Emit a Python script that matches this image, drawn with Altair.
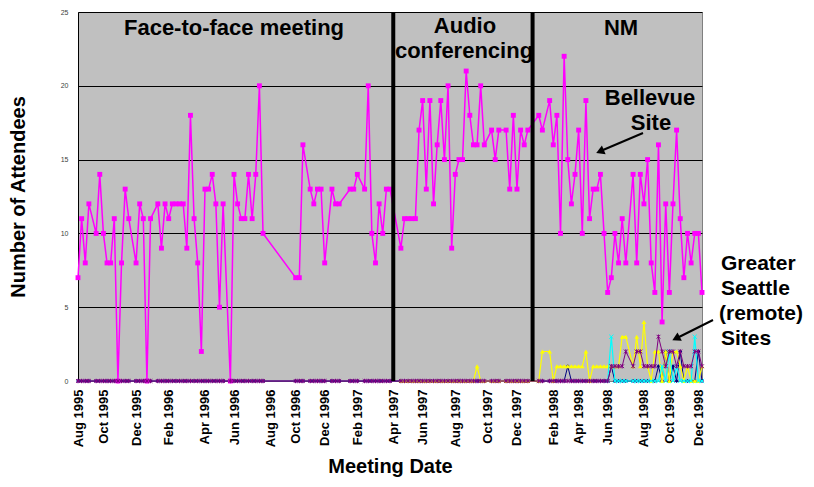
import json
import altair as alt
import pandas as pd

# ---------------- data (meeting index along the category axis) ----------------
f2f_idx = [0, 1, 2, 3, 5, 6, 7, 8, 9, 10, 11, 12, 13, 14, 16, 17, 18, 19, 20,
           22, 23, 24, 25, 26, 27, 28, 29, 30, 31, 32, 33, 34, 35, 36, 37, 38, 39, 40,
           42, 43, 44, 45, 46, 47, 48, 49, 50, 51,
           60, 61, 62, 64, 65, 66, 67, 68, 70, 71, 72, 75, 76, 77,
           79, 80, 81, 82, 83, 84, 85, 86]
f2f_bellevue = [7, 11, 8, 12, 10, 14, 10, 8, 8, 11, 0, 8, 13, 11, 8, 12, 11, 0, 11,
                12, 9, 12, 11, 12, 12, 12, 12, 9, 18, 11, 8, 2, 13, 13, 14, 12, 5, 12,
                0, 14, 12, 11, 11, 14, 11, 14, 20, 10,
                7, 7, 16, 13, 12, 13, 13, 8, 13, 12, 12, 13, 13, 14,
                13, 20, 10, 8, 12, 10, 13, 13]
f2f_remote = [0, 0, 0, 0, 0, 0, 0, 0, 0, 0, 0, 0, 0, 0, 0, 0, 0, 0, 0,
              0, 0, 0, 0, 0, 0, 0, 0, 0, 0, 0, 0, 0, 0, 0, 0, 0, 0, 0,
              0, 0, 0, 0, 0, 0, 0, 0, 0, 0,
              0, 0, 0, 0, 0, 0, 0, 0, 0, 0, 0, 0, 0, 0,
              0, 0, 0, 0, 0, 0, 0, 0]

audio_idx = [89, 90, 91, 92, 93, 94, 95, 96, 97, 98, 99, 100, 101, 102, 103, 104,
             105, 106, 107, 108, 109, 110, 111, 112, 114, 115, 116,
             118, 119, 120, 121, 122, 123, 124]
audio_bellevue = [9, 11, 11, 11, 11, 17, 19, 13, 19, 12, 16, 19, 15, 20, 9, 14,
                  15, 15, 21, 18, 16, 16, 20, 16, 17, 15, 17,
                  17, 13, 18, 13, 17, 16, 17]
audio_yellow = [0, 0, 0, 0, 0, 0, 0, 0, 0, 0, 0, 0, 0, 0, 0, 0,
                0, 0, 0, 0, 0, 1, 0, 0, 0, 0, 0,
                0, 0, 0, 0, 0, 0, 0]
audio_remote = [0, 0, 0, 0, 0, 0, 0, 0, 0, 0, 0, 0, 0, 0, 0, 0,
                0, 0, 0, 0, 0, 0, 0, 0, 0, 0, 0,
                0, 0, 0, 0, 0, 0, 0]

nm_idx = [127, 128,
          130, 131, 132, 133, 134, 135, 136, 137, 138, 139, 140, 141, 142, 143,
          144, 145, 146, 147, 148, 149, 150, 151,
          153, 154, 155, 156, 157, 158, 159, 160, 161, 162, 163, 164, 165, 166,
          167, 168, 169, 170, 171, 172]
nm_bellevue = [18, 17,
               19, 16, 18, 10, 22, 15, 12, 14, 17, 10, 19, 11, 13, 13,
               14, 10, 6, 7, 10, 8, 11, 8,
               14, 8, 14, 12, 15, 8, 6, 16, 4, 12, 6, 12, 17, 11,
               7, 10, 8, 10, 10, 6]
nm_navy = [0, 0,
           0, 0, 0, 0, 0, 1, 0, 0, 0, 0, 0, 0, 0, 0,
           0, 0, 0, 1, 0, 0, 0, 0,
           0, 0, 0, 0, 0, 0, 0, 1, 0, 2, 0, 1, 0, 2,
           0, 0, 0, 0, 2, 0]
nm_yellow = [0, 2,
             2, 0, 1, 1, 1, 1, 1, 1, 1, 1, 2, 0, 1, 1,
             1, 1, 1, 1, 1, 1, 3, 3,
             1, 3, 1, 4, 1, 0, 2, 2, 0, 2, 0, 2, 2, 1,
             0, 1, 0, 0, 0, 1]
nm_cyan = [None, None,
           None, None, None, None, None, None, None, None, None, None, None, None, None, None,
           None, None, 0, 3, 0, 0, 0, 0,
           0, 0, 0, 0, 0, 0, 0, 0, 1, 0, 2, 0, 1, 0,
           0, 0, 0, 3, 0, 0]
nm_purple = [0, 0,
             0, 0, 0, 0, 0, 0, 0, 0, 0, 0, 0, 0, 0, 0,
             0, 0, 0, 1, 1, 1, 1, 2,
             1, 2, 2, 1, 1, 1, 1, 3, 2, 1, 2, 2, 1, 2,
             1, 1, 1, 2, 2, 1]

phase_bounds = [86.9, 125.3]

tick_idx = [0, 7, 16, 25, 35, 43, 53, 60, 68, 77, 87, 95, 104, 113, 121,
            131, 138, 146, 156, 163, 171]
tick_lbl = ["Aug 1995", "Oct 1995", "Dec 1995", "Feb 1996", "Apr 1996", "Jun 1996",
            "Aug 1996", "Oct 1996", "Dec 1996", "Feb 1997", "Apr 1997", "Jun 1997",
            "Aug 1997", "Oct 1997", "Dec 1997", "Feb 1998", "Apr 1998", "Jun 1998",
            "Aug 1998", "Oct 1998", "Dec 1998"]

# ---------------- helpers ----------------
FONT = "Liberation Sans"
W, H = 624, 369
TOP = 4

xscale = alt.Scale(domain=[0, 172], nice=False, zero=False)
yscale = alt.Scale(domain=[0, 25], nice=False)
label_expr = "%s[indexof(%s, datum.value)]" % (json.dumps(tick_lbl), json.dumps(tick_idx))
xaxis = alt.Axis(values=tick_idx, labelExpr=label_expr, labelAngle=270,
                 labelFont=FONT, labelFontSize=13, labelFontWeight="bold",
                 labelColor="black", labelPadding=8, ticks=False, tickSize=0,
                 grid=False, domainColor="#808080", labelOverlap=False,
                 title="Meeting Date", titleFont=FONT, titleFontSize=20,
                 titleFontWeight="bold", titleColor="black",
                 titleX=W / 2, titleY=85, titleBaseline="middle", titleAlign="center")
yaxis = alt.Axis(values=[0, 5, 10, 15, 20, 25], labelFont=FONT, labelFontSize=7,
                 labelColor="#404040", labelPadding=10, ticks=False, tickSize=0,
                 grid=True, gridColor="black", gridWidth=1, domainColor="black",
                 title="Number of Attendees", titleFont=FONT, titleFontSize=20,
                 titleFontWeight="bold", titleColor="black", titleAngle=270,
                 titleX=-60, titleY=H / 2, titleBaseline="middle", titleAlign="center")


def X(field):
    return alt.X(field, type="quantitative", scale=xscale, axis=xaxis)


def Y(field):
    return alt.Y(field, type="quantitative", scale=yscale, axis=yaxis)


def series(idx, vals):
    rows = [{"idx": i, "v": v} for i, v in zip(idx, vals) if v is not None]
    return pd.DataFrame(rows)


def line_layer(df, color, shape, size, filled, width=1.2):
    base = alt.Chart(df)
    ln = base.mark_line(color=color, strokeWidth=width).encode(x=X("idx"), y=Y("v"))
    if filled:
        pt = base.mark_point(shape=shape, filled=True, color=color, size=size, opacity=1)
    else:
        pt = base.mark_point(shape=shape, filled=False, color=color, size=size,
                             strokeWidth=1.0, opacity=1)
    return ln + pt.encode(x=X("idx"), y=Y("v"))


all_idx = f2f_idx + audio_idx + nm_idx
bellevue = f2f_bellevue + audio_bellevue + nm_bellevue
navy = f2f_remote + audio_remote + nm_navy
purple = f2f_remote + audio_remote + nm_purple
yellow = audio_yellow + nm_yellow
yellow_idx = audio_idx + nm_idx

XPATH = "M-1,-1L1,1M-1,1L1,-1"
STAR = "M-1,-1L1,1M-1,1L1,-1M0,-1.2L0,1.2"

navy_l = line_layer(series(all_idx, navy), "#000080", "diamond", 16, True, 1.0)
bell_l = line_layer(series(all_idx, bellevue), "#FF00FF", "square", 24, True, 1.5)
yel_l = line_layer(series(yellow_idx, yellow), "#FFFF00", "triangle-up", 22, True)
cyan_l = line_layer(series(nm_idx, nm_cyan), "#00FFFF", XPATH, 18, False)
purp_l = line_layer(series(all_idx, purple), "#800080", STAR, 14, False, 1.0)

sep = alt.Chart(pd.DataFrame({"b": phase_bounds})).mark_rule(
    color="black", strokeWidth=4).encode(x=X("b"))

# ---------------- annotations (pixel positions inside the plot frame) ----------------
notes = pd.DataFrame([
    {"t": "Face-to-face meeting", "px": 156, "py": 26, "a": "center"},
    {"t": "Audio", "px": 387, "py": 24, "a": "center"},
    {"t": "conferencing", "px": 386, "py": 49, "a": "center"},
    {"t": "NM", "px": 543, "py": 26, "a": "center"},
    {"t": "Bellevue", "px": 572, "py": 96, "a": "center"},
    {"t": "Site", "px": 573, "py": 121, "a": "center"},
    {"t": "Greater", "px": 643, "py": 261, "a": "left"},
    {"t": "Seattle", "px": 643, "py": 286, "a": "left"},
    {"t": "(remote)", "px": 641, "py": 311, "a": "left"},
    {"t": "Sites", "px": 643, "py": 336, "a": "left"},
])
notes["py"] = notes["py"] - (TOP - 1)
txt_c = alt.Chart(notes[notes.a == "center"]).mark_text(
    font=FONT, fontSize=22, fontWeight="bold", color="black", align="center",
    baseline="alphabetic").encode(
    x=alt.X("px:Q", scale=None), y=alt.Y("py:Q", scale=None), text="t:N")
txt_l = alt.Chart(notes[notes.a == "left"]).mark_text(
    font=FONT, fontSize=21, fontWeight="bold", color="black", align="left",
    baseline="alphabetic").encode(
    x=alt.X("px:Q", scale=None), y=alt.Y("py:Q", scale=None), text="t:N")

arrows = pd.DataFrame([
    {"x1": 565, "y1": 124, "x2": 525, "y2": 141, "hx": 522, "hy": 142.5, "ang": 247},
    {"x1": 635, "y1": 311, "x2": 601, "y2": 328, "hx": 598, "hy": 329.5, "ang": 243},
])
for c in ["y1", "y2", "hy"]:
    arrows[c] = arrows[c] - (TOP - 1)
arr_line = alt.Chart(arrows).mark_rule(color="black", strokeWidth=2).encode(
    x=alt.X("x1:Q", scale=None), y=alt.Y("y1:Q", scale=None),
    x2="x2:Q", y2="y2:Q")
arr_head = alt.Chart(arrows).mark_point(shape="triangle-up", filled=True,
                                        color="black", size=90, opacity=1).encode(
    x=alt.X("hx:Q", scale=None), y=alt.Y("hy:Q", scale=None),
    angle=alt.Angle("ang:Q", scale=None))

chart = alt.layer(
    navy_l, bell_l, yel_l, cyan_l, purp_l, sep, txt_c, txt_l, arr_line, arr_head
).properties(
    width=W, height=H,
    autosize=alt.AutoSizeParams(type="none"),
    padding={"left": 70, "top": TOP, "right": 104, "bottom": 98},
).configure_view(
    fill="#C0C0C0", stroke="#808080", strokeWidth=1
)

chart.save("out.html", embed_options={"renderer": "svg", "actions": False})
